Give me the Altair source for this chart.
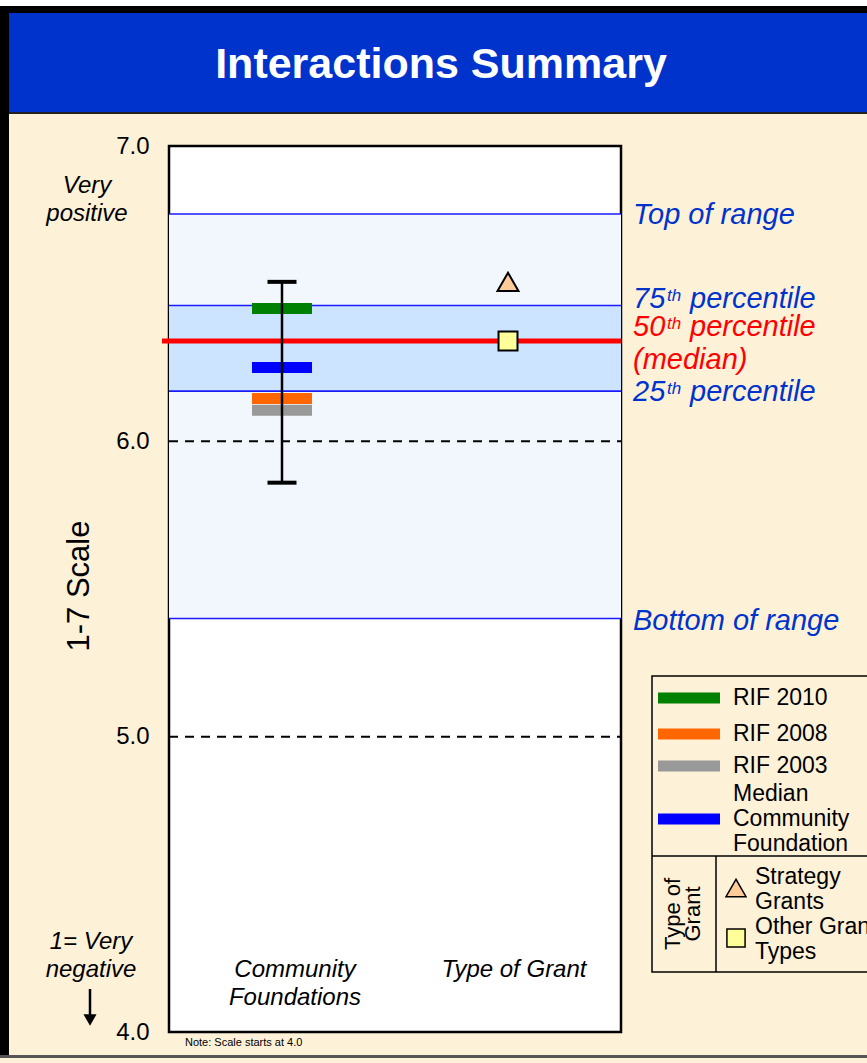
import altair as alt
import pandas as pd

FONT = "Liberation Sans"

# ---- values -------------------------------------------------------------
categories = ["Community Foundations", "Type of Grant"]

rif_series = ["RIF 2010", "RIF 2008", "RIF 2003", "Median Community Foundation"]
rif_values = [6.45, 6.145, 6.105, 6.25]
rif_colors = ["#008000", "#FF6600", "#999999", "#0000FF"]

cf_range = [5.86, 6.54]  # lowest / highest community foundation

grant_types = ["Strategy Grants", "Other Grant Types"]
grant_values = [6.54, 6.34]
grant_shapes = ["triangle-up", "square"]
grant_fills = ["#FFCC99", "#FFFF99"]
grant_sizes = [440, 360]

range_top, range_bottom = 6.77, 5.40
pct_75, pct_50, pct_25 = 6.46, 6.34, 6.17

tick_values = [4.0, 5.0, 6.0, 7.0]
dashed_values = [5.0, 6.0]

# ---- layout -------------------------------------------------------------
W, H = 867, 1063
PL, PT = 169, 146          # plot origin on the page
PW, PH = 452, 886          # plot size

one = pd.DataFrame({"k": [0]})
Y = alt.Scale(domain=[4, 7], nice=False, zero=False)
X = alt.Scale(domain=categories, type="point", padding=0.5)


def px(x):
    return alt.value(x - PL)


def py(y):
    return alt.value(y - PT)


def box(x1, y1, x2, y2, fill, stroke=None, sw=0):
    kw = dict(color=fill)
    if stroke:
        kw.update(stroke=stroke, strokeWidth=sw)
    return alt.Chart(one).mark_rect(**kw).encode(
        x=px(x1), x2=px(x2), y=py(y1), y2=py(y2))


def label(text, x, y, size, align="left", color="black", italic=False,
          bold=False, angle=0, baseline="middle", line_height=None):
    # for multi-line text, y is the first line
    kw = dict(text=text, fontSize=size, font=FONT, align=align, color=color,
              baseline=baseline)
    if italic:
        kw["fontStyle"] = "italic"
    if bold:
        kw["fontWeight"] = "bold"
    if angle:
        kw["angle"] = angle
    if "\n" in text:
        kw["lineBreak"] = "\n"
        kw["lineHeight"] = line_height or size
    return alt.Chart(one).mark_text(**kw).encode(x=px(x), y=py(y))


def seg(x1, y1, x2, y2, color="black", width=1.5):
    return alt.Chart(one).mark_rule(color=color, strokeWidth=width).encode(
        x=px(x1), x2=px(x2), y=py(y1), y2=py(y2))


# ---- page frame & header ------------------------------------------------
frame = [
    box(0, 0, W, 6, "white"),
    box(0, 6, W, 13, "black"),
    box(0, 13, W, 112, "#0033CC"),
    box(0, 112, W, 114, "#222222"),
    box(0, 6, 9, 1057, "black"),
    box(0, 1055, W, 1058, "#555555"),
    label("Interactions Summary", 441, 65, 43, align="center",
          color="white", bold=True),
]

# ---- plot content -------------------------------------------------------
bands = pd.DataFrame({"lo": [range_bottom, pct_25], "hi": [range_top, pct_75],
                      "fill": ["#F2F7FE", "#CCE4FF"]})
band_layer = alt.Chart(bands).mark_rect().encode(
    y=alt.Y("lo:Q", scale=Y, axis=alt.Axis(
        values=tick_values, format=".1f", labelFontSize=24, labelFont=FONT,
        labelColor="black", ticks=False, domain=False, grid=False,
        labelPadding=20, title=None)),
    y2="hi:Q",
    x=alt.value(0), x2=alt.value(PW),
    color=alt.Color("fill:N", scale=None),
)

blue_lines = alt.Chart(pd.DataFrame({"v": [range_top, pct_75, pct_25, range_bottom]})
                       ).mark_rule(color="#1A1AFF", strokeWidth=1.6).encode(
    y=alt.Y("v:Q", scale=Y), x=alt.value(0), x2=alt.value(PW))

dashed = alt.Chart(pd.DataFrame({"v": dashed_values})).mark_rule(
    color="black", strokeWidth=2, strokeDash=[9, 7]).encode(
    y=alt.Y("v:Q", scale=Y), x=alt.value(0), x2=alt.value(PW))

median_line = alt.Chart(pd.DataFrame({"v": [pct_50]})).mark_rule(
    color="#FF0000", strokeWidth=5).encode(
    y=alt.Y("v:Q", scale=Y), x=alt.value(-7), x2=alt.value(PW))

rif_df = pd.DataFrame({"cat": categories[0], "series": rif_series,
                       "v": rif_values, "col": rif_colors})
rif_ticks = alt.Chart(rif_df).mark_tick(size=60, thickness=11, opacity=1).encode(
    x=alt.X("cat:N", scale=X, axis=None),
    y=alt.Y("v:Q", scale=Y),
    color=alt.Color("col:N", scale=None),
)

err_df = pd.DataFrame({"cat": [categories[0]], "lo": [cf_range[0]], "hi": [cf_range[1]]})
err_rule = alt.Chart(err_df).mark_rule(color="black", strokeWidth=2.5).encode(
    x=alt.X("cat:N", scale=X, axis=None),
    y=alt.Y("lo:Q", scale=Y), y2="hi:Q")
cap_df = pd.DataFrame({"cat": categories[0], "v": cf_range})
err_caps = alt.Chart(cap_df).mark_tick(size=29, thickness=4, color="black",
                                       opacity=1).encode(
    x=alt.X("cat:N", scale=X, axis=None), y=alt.Y("v:Q", scale=Y))

grant_df = pd.DataFrame({"cat": categories[1], "g": grant_types,
                         "v": grant_values, "shape": grant_shapes,
                         "fill": grant_fills, "sz": grant_sizes})
grant_pts = alt.Chart(grant_df).mark_point(
    filled=True, stroke="black", strokeWidth=2, opacity=1).encode(
    x=alt.X("cat:N", scale=X, axis=None),
    y=alt.Y("v:Q", scale=Y),
    shape=alt.Shape("shape:N", scale=None),
    fill=alt.Fill("fill:N", scale=None),
    size=alt.Size("sz:Q", scale=None),
)

# ---- annotations to the right of the plot ---------------------------------
def ref_text(text, value, dy, color, size=29, x=633 - PL):
    return alt.Chart(pd.DataFrame({"v": [value]})).mark_text(
        text=text, font=FONT, fontSize=size, fontStyle="italic", color=color,
        align="left", baseline="alphabetic", dy=dy).encode(
        x=alt.value(x), y=alt.Y("v:Q", scale=Y))


BLUE_T, RED_T = "#0033CC", "#FF0000"
annotations = [
    ref_text("Top of range", range_top, 10, BLUE_T),
    ref_text("75", pct_75, 3, BLUE_T),
    ref_text("th", pct_75, -4, BLUE_T, size=17, x=667 - PL),
    ref_text("percentile", pct_75, 3, BLUE_T, x=690 - PL),
    ref_text("50", pct_50, -5, RED_T),
    ref_text("th", pct_50, -12, RED_T, size=17, x=667 - PL),
    ref_text("percentile", pct_50, -5, RED_T, x=690 - PL),
    ref_text("(median)", pct_50, 28, RED_T),
    ref_text("25", pct_25, 10, BLUE_T),
    ref_text("th", pct_25, 3, BLUE_T, size=17, x=667 - PL),
    ref_text("percentile", pct_25, 10, BLUE_T, x=690 - PL),
    ref_text("Bottom of range", range_bottom, 11, BLUE_T),
]

# ---- left side texts ------------------------------------------------------
left = [
    label("Very\npositive", 87, 186, 24, align="center", italic=True,
          line_height=28),
    label("1-7 Scale", 80, 586, 31, align="center", angle=270),
    label("1= Very\nnegative", 91, 942, 24, align="center", italic=True,
          line_height=28),
    seg(90, 989, 90, 1016, width=2.5),
    alt.Chart(one).mark_point(shape="triangle-down", filled=True, color="black",
                              size=170, opacity=1).encode(x=px(90), y=py(1020)),
    label("Community\nFoundations", 295, 970, 24, align="center", italic=True,
          line_height=28),
    label("Type of Grant", 514, 970, 24, align="center", italic=True),
    label("Note: Scale starts at 4.0", 185, 1043, 11),
]

# ---- legend -------------------------------------------------------------
LX1, LY1, LY2 = 652, 676, 972
legend = [
    box(LX1, LY1, W + 10, LY2, "#FDF1D8", stroke="black", sw=1.5),
    seg(LX1, 856, W + 10, 856),
    seg(716, 856, 716, LY2),
]
legend_rows = [698, 734, 766, 819]
for name, color, yy in zip(rif_series, rif_colors, legend_rows):
    legend.append(box(658, yy - 5.5, 720, yy + 5.5, color))
    if name.startswith("Median"):
        legend.append(label("Median\nCommunity\nFoundation", 733, yy - 25, 23,
                            line_height=25))
    else:
        legend.append(label(name, 733, yy, 23))
legend.append(label("Type of\nGrant", 673, 914, 22, align="center", angle=270,
                    line_height=20))
for g, shp, fill, sz, yy in zip(grant_types, grant_shapes, grant_fills,
                                [400, 330], [888, 938]):
    legend.append(alt.Chart(one).mark_point(
        shape=shp, filled=True, fill=fill, stroke="black", strokeWidth=1.5,
        size=sz, opacity=1).encode(x=px(736), y=py(yy)))
    first, second = g.rsplit(" ", 1)
    legend.append(label(first + "\n" + second, 755, yy - 11, 23,
                        line_height=25))

layers = ([band_layer, blue_lines, dashed, median_line, rif_ticks, err_rule,
           err_caps, grant_pts] + annotations + left + frame + legend)

chart = alt.layer(*layers).properties(
    width=PW, height=PH,
    autosize=alt.AutoSizeParams(type="none"),
    padding={"left": PL, "top": PT, "right": W - PL - PW, "bottom": H - PT - PH},
    background="#FDF1D8",
).configure_view(fill="white", stroke="black", strokeWidth=2.5)

chart.save("out.html", embed_options={"renderer": "svg", "actions": False})
